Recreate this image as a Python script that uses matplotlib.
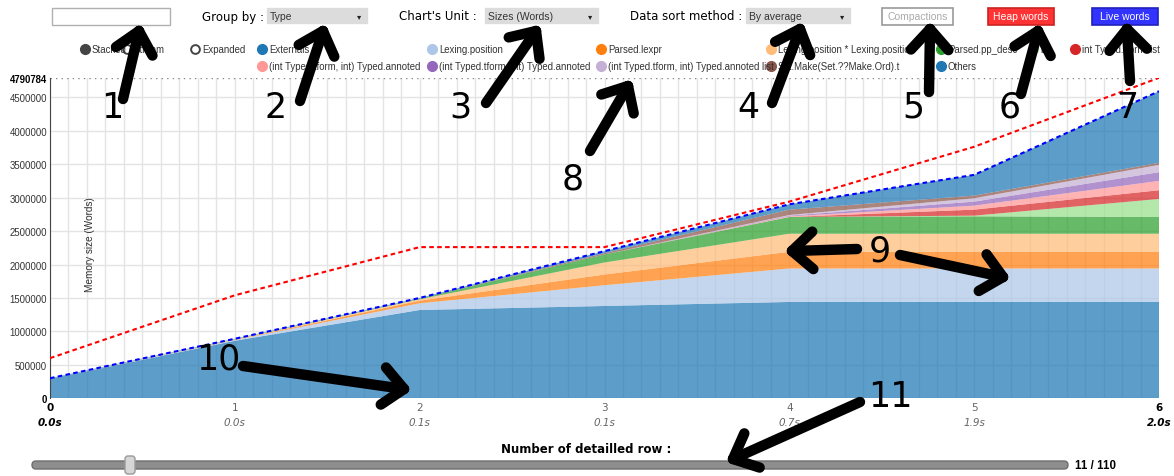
import numpy as np
import matplotlib
matplotlib.use("Agg")
import matplotlib.pyplot as plt
from matplotlib.patches import Rectangle, FancyBboxPatch

# ---- data (words) ----
steps = [0, 1, 2, 3, 4, 5, 6]
times = ["0.0s", "0.0s", "0.1s", "0.1s", "0.7s", "1.9s", "2.0s"]

externals = [290000, 860000, 1320000, 1380000, 1440000, 1440000, 1440000]
lexing_position = [0, 10000, 100000, 310000, 500000, 500000, 500000]
parsed_lexpr = [0, 5000, 40000, 160000, 250000, 250000, 250000]
lexing_pair = [0, 5000, 20000, 180000, 270000, 270000, 270000]
parsed_pp_desc = [0, 5000, 10000, 120000, 250000, 260000, 250000]
list_t = [0, 0, 0, 0, 0, 10000, 270000]
int_tform = [0, 0, 0, 0, 0, 90000, 130000]
annoted_a = [0, 0, 0, 0, 10000, 60000, 140000]
annoted_b = [0, 0, 0, 0, 10000, 60000, 130000]
annoted_list = [0, 0, 0, 0, 10000, 50000, 110000]
set_make = [0, 0, 0, 20000, 80000, 40000, 30000]
others = [10000, 5000, 10000, 30000, 80000, 310000, 1070000]

heap_words = [600000, 1540000, 2260000, 2260000, 2940000, 3760000, 4790784]

names = ["Externals", "Lexing.position", "Parsed.lexpr",
         "Lexing.position * Lexing.position", "Parsed.pp_desc", "list",
         "int Typed.tform list", "(int Typed.tform, int) Typed.annoted",
         "(int Typed.tform, int) Typed.annoted",
         "(int Typed.tform, int) Typed.annoted list",
         "Set.Make(Set.??Make.Ord).t", "Others"]
colors = ["#1f77b4", "#aec7e8", "#ff7f0e", "#ffbb78", "#2ca02c", "#98df8a",
          "#d62728", "#ff9896", "#9467bd", "#c5b0d5", "#8c564b", "#1f77b4"]

layers = [externals, lexing_position, parsed_lexpr, lexing_pair, parsed_pp_desc,
          list_t, int_tform, annoted_a, annoted_b, annoted_list, set_make, others]
live_words = np.sum(np.array(layers), axis=0)

yticks = [0, 500000, 1000000, 1500000, 2000000, 2500000, 3000000, 3500000,
          4000000, 4500000]
ymax = 4790784

W, H = 1174, 477
fig = plt.figure(figsize=(W / 100, H / 100), dpi=100)

# ---- main chart ----
ax = fig.add_axes([50 / W, (H - 399.3) / H, 1109 / W, 320.5 / H])
ax.set_xlim(0, 6)
ax.set_ylim(0, ymax)
ax.stackplot(steps, *layers, colors=colors, alpha=0.72, lw=0, zorder=2)
ax.plot(steps, heap_words, color="#ff0000", lw=1.5, ls=(0, (2.2, 1.6)), zorder=4)
ax.plot(steps, live_words, color="#0000ff", lw=1.5, ls=(0, (2.2, 1.6)), zorder=4)

ax.set_xticks(steps)
ax.set_xticks(np.arange(0, 6.001, 0.1), minor=True)
ax.set_yticks(yticks + [ymax])
ax.set_yticklabels([str(v) for v in yticks + [ymax]])
ax.set_axisbelow(True)
ax.grid(True, which="both", axis="x", color="#e4e4e4", lw=1)
ax.grid(True, which="major", axis="y", color="#e4e4e4", lw=1)
gl = ax.yaxis.get_gridlines()
gl[-1].set_linestyle((0, (1, 3)))
gl[-1].set_color("#888888")
ax.tick_params(axis="x", which="both", length=0, labelbottom=False)
ax.tick_params(axis="y", length=0, pad=2, labelsize=6.9, labelcolor="#333333")
for lab in ax.get_yticklabels():
    lab.set_family("Liberation Sans")
for lab in (ax.get_yticklabels()[0], ax.get_yticklabels()[-1]):
    lab.set_fontweight("bold")
    lab.set_color("#000000")
for s in ["top", "right", "bottom"]:
    ax.spines[s].set_visible(False)
ax.spines["left"].set_color("#444444")

for i, t in zip(steps, times):
    edge = i in (steps[0], steps[-1])
    ax.annotate(str(i), xy=(i, 0), xycoords=("data", "axes fraction"),
                xytext=(0, -9), textcoords="offset pixels", ha="center", va="center",
                fontsize=7.5, color="#000" if edge else "#666",
                fontweight="bold" if edge else "normal")
    ax.annotate(t, xy=(i, 0), xycoords=("data", "axes fraction"),
                xytext=(0, -24), textcoords="offset pixels", ha="center", va="center",
                fontsize=7.5, style="italic", color="#000" if edge else "#666",
                fontweight="bold" if edge else "normal")

fig.text(90 / W, 1 - 245 / H, "Memory size (Words)", rotation=90, ha="center",
         va="center", fontsize=7.2, color="#333333", family="Liberation Sans")

# ---- overlay for UI, legend and annotations ----
ov = fig.add_axes([0, 0, 1, 1], zorder=10)
ov.set_xlim(0, W)
ov.set_ylim(H, 0)
ov.axis("off")
ov.patch.set_alpha(0)

ui_font = "DejaVu Sans"
ov.add_patch(Rectangle((52, 9), 118, 17, fc="white", ec="#b0b0b0", lw=1))

def dropdown(label, lx, x0, x1, value):
    ov.text(lx, 17, label, ha="left", va="center", fontsize=8.5, family=ui_font)
    ov.add_patch(Rectangle((x0, 9), x1 - x0, 15, fc="#dcdcdc", ec="#dcdcdc"))
    ov.text(x0 + 3, 16.5, value, ha="left", va="center", fontsize=7.5,
            color="#333", family="Liberation Sans")
    ov.text(x1 - 8, 16.5, "\u25be", ha="center", va="center", fontsize=6, color="#222")

dropdown("Group by :", 202, 267, 367, "Type")
dropdown("Chart's Unit :", 399, 485, 598, "Sizes (Words)")
dropdown("Data sort method :", 630, 746, 850, "By average")

buttons = [("Compactions", 882, 953, "white", "#999999", "#aaaaaa"),
           ("Heap words", 988, 1054, "#ff3333", "#cc2222", "white"),
           ("Live words", 1092, 1158, "#3333ff", "#2222bb", "white")]
for txt, x0, x1, fc, ec, tc in buttons:
    ov.add_patch(Rectangle((x0, 9), x1 - x0, 17, fc=fc, ec=ec, lw=1.2))
    ov.text((x0 + x1) / 2, 17.5, txt, ha="center", va="center", fontsize=7.5,
            color=tc, family="Liberation Sans")

# legend
lf = dict(ha="left", va="center", fontsize=6.9, color="#333", family="Liberation Sans")
ov.plot(85, 50, "o", ms=7, color="#444444")
ov.text(92, 50, "Stacked", **lf)
ov.plot(127, 50, "o", ms=6.3, mfc="white", mec="#444444", mew=1.4)
ov.text(134, 50, "Stream", **lf)
ov.plot(195, 50, "o", ms=6.3, mfc="white", mec="#444444", mew=1.4)
ov.text(202, 50, "Expanded", **lf)
leg_x = [262, 432, 601, 771, 941, 1033, 1075, 262, 432, 601, 771, 941]
leg_y = [50] * 7 + [67] * 5
for nm, c, lx, ly in zip(names, colors, leg_x, leg_y):
    ov.plot(lx, ly, "o", ms=7, color=c)
    ov.text(lx + 7, ly, nm, **lf)

# slider
ov.text(586, 450, "Number of detailled row :", ha="center", va="center",
        fontsize=8.5, fontweight="bold", family=ui_font)
ov.add_patch(FancyBboxPatch((32, 462), 1036, 8,
                            boxstyle="round,pad=0,rounding_size=4",
                            fc="#8e8e8e", ec="#6e6e6e", lw=1))
ov.add_patch(FancyBboxPatch((125, 457), 10, 18,
                            boxstyle="round,pad=0,rounding_size=3",
                            fc="#d6d6d6", ec="#9a9a9a", lw=1))
ov.text(1075, 466, "11 / 110", ha="left", va="center", fontsize=8.3,
        fontweight="bold", family="Liberation Sans")

# annotation arrows
def arrow(x0, y0, x1, y1, head=28):
    kw = dict(color="black", lw=7.5, solid_capstyle="round", zorder=20)
    ov.plot([x0, x1], [y0, y1], **kw)
    d = np.array([x0 - x1, y0 - y1], dtype=float)
    d /= np.hypot(*d)
    for a in (np.deg2rad(42), -np.deg2rad(42)):
        r = np.array([[np.cos(a), -np.sin(a)], [np.sin(a), np.cos(a)]]) @ d
        ov.plot([x1, x1 + r[0] * head], [y1, y1 + r[1] * head], **kw)

marks = [("1", 112, 108, [(123, 100, 139, 32)]),
         ("2", 276, 108, [(300, 102, 323, 32)]),
         ("3", 460, 108, [(486, 104, 536, 32)]),
         ("4", 748, 108, [(772, 104, 800, 30)]),
         ("5", 913, 108, [(929, 93, 930, 30)]),
         ("6", 1010, 108, [(1021, 95, 1038, 32)]),
         ("7", 1127, 108, [(1130, 82, 1127, 30)]),
         ("8", 573, 180, [(590, 152, 628, 87)]),
         ("9", 880, 252, [(857, 250, 792, 252), (900, 256, 1003, 278)]),
         ("10", 218, 360, [(243, 367, 404, 390)]),
         ("11", 890, 397, [(860, 403, 733, 460)])]
for num, tx, ty, arrs in marks:
    ov.text(tx, ty, num, ha="center", va="center", fontsize=25, color="black",
            family="DejaVu Sans", zorder=21)
    for a in arrs:
        arrow(*a)

fig.savefig("out.png", dpi=100)
